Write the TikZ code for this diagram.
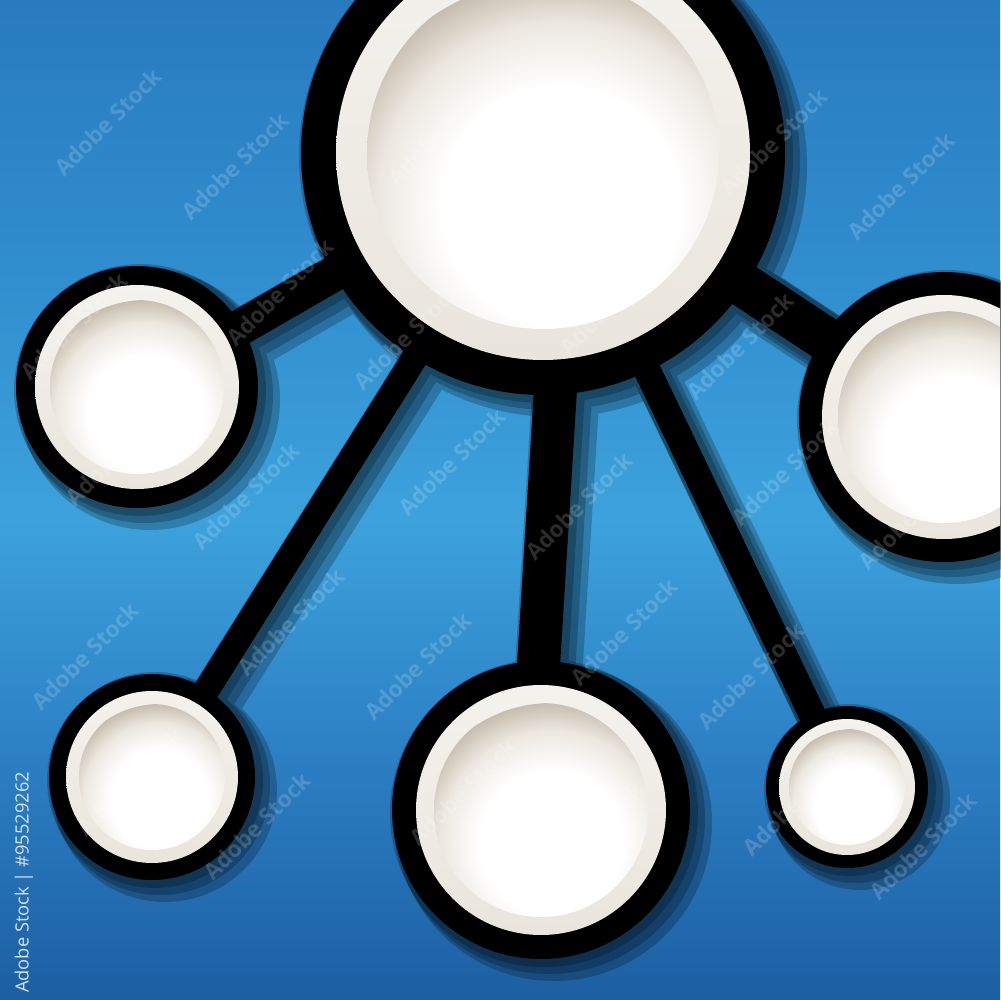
\documentclass[tikz,border=0pt]{standalone}
\usepackage{fontspec}
\newfontfamily\wmfont{Open Sans}
\usetikzlibrary{calc}
\definecolor{navy}{RGB}{12,40,78}
\definecolor{ringtop}{RGB}{244,242,237}
\definecolor{ringbot}{RGB}{233,229,220}
\definecolor{discedge}{RGB}{198,189,174}
\definecolor{discmid}{RGB}{236,232,224}
\definecolor{creditcol}{RGB}{214,226,240}
\definecolor{bgA}{RGB}{28,95,162}
\definecolor{bgB}{RGB}{44,128,196}
\definecolor{bgC}{RGB}{60,162,220}
\definecolor{bgD}{RGB}{48,140,205}
\definecolor{bgE}{RGB}{40,123,191}
\pgfdeclareverticalshading{bgshade}{100bp}{color(0bp)=(bgA); color(25bp)=(bgA); color(37.5bp)=(bgB); color(49bp)=(bgC); color(62.5bp)=(bgD); color(75bp)=(bgE); color(100bp)=(bgE)}
\pgfdeclareradialshading{discshade}{\pgfpoint{0bp}{0bp}}{color(0bp)=(white); color(13bp)=(white); color(20bp)=(discmid); color(25bp)=(discedge); color(50bp)=(discedge)}

% #1 spread, #2 dx, #3 dy
\newcommand\netshapes[3]{%
  \fill ($(c0)+(#2,#3)$) circle ({242+#1});
  \fill ($(lf)+(#2,#3)$) circle ({121+#1});
  \fill ($(rt)+(#2,#3)$) circle ({145+#1});
  \fill ($(bl)+(#2,#3)$) circle ({103+#1});
  \fill ($(bm)+(#2,#3)$) circle ({149+#1});
  \fill ($(br)+(#2,#3)$) circle ({81+#1});
  \draw[line width={(36+2*#1)*0.1mm}] ($(lf)+(#2,#3)$) -- ($(c0)+(#2,#3)$);
  \draw[line width={(44+2*#1)*0.1mm}] ($(rt)+(#2,#3)$) -- ($(c0)+(#2,#3)$);
  \draw[line width={(26+2*#1)*0.1mm}] ($(bl)+(#2,#3)$) -- ($(c0)+(#2,#3)$);
  \draw[line width={(27+2*#1)*0.1mm}] ($(br)+(#2,#3)$) -- ($(c0)+(#2,#3)$);
  \draw[line width={(43+2*#1)*0.1mm}] ($(stembot)+(#2,#3)$) -- ($(stemtop)+(#2,#3)$);
}
% #1 centre, #2 cream ring radius, #3 inner disc radius
\newcommand\whitedisc[3]{%
  \shade[top color=ringtop, bottom color=ringbot] (#1) circle (#2);
  \begin{scope}
    \clip (#1) circle (#3);
    \shade[shading=discshade] ($(#1)+({0.1*#3},{-0.3*#3})$) circle ({1.3*#3});
  \end{scope}
}
\tikzset{
  wm/.style={text=white, text opacity=0.17, rotate=45, inner sep=0pt, font=\wmfont\bfseries},
  credit/.style={text=creditcol, rotate=90, inner sep=0pt, font=\wmfont}
}

\begin{document}
\begin{tikzpicture}[x=0.1mm, y=0.1mm]
\useasboundingbox (0,0) rectangle (1000,1000);
\clip (0,0) rectangle (1000,1000);
\shade[shading=bgshade] (0,0) rectangle (1000,1000);

% named positions, given in pixel coordinates (y downwards)
\begin{scope}[shift={(0,1000)}, yscale=-1]
  \coordinate (c0) at (543,153);
  \coordinate (lf) at (137,387);
  \coordinate (rt) at (944,417);
  \coordinate (bl) at (152,777);
  \coordinate (bm) at (541,810);
  \coordinate (br) at (847,787);
  \coordinate (stemtop) at (570,153);
  \coordinate (stembot) at (529,820);
\end{scope}

% stepped shadows
\begin{scope}[transparency group, opacity=0.22, color=navy]
  \netshapes{9}{13}{-13}
\end{scope}
\begin{scope}[transparency group, opacity=0.22, color=navy]
  \netshapes{7}{8}{-8}
\end{scope}
\begin{scope}[transparency group, opacity=0.22, color=navy]
  \netshapes{5}{3}{-3}
\end{scope}

% black network
\begin{scope}[color=black]
  \netshapes{0}{0}{0}
\end{scope}

% white discs
\whitedisc{c0}{207}{176}
\whitedisc{lf}{102}{87}
\whitedisc{rt}{122}{106}
\whitedisc{bl}{86}{73}
\whitedisc{bm}{125}{107}
\whitedisc{br}{68}{58}

% watermark lattice (only marks lying inside the picture)
\foreach \k in {-1,...,5}{
  \foreach \m in {-3,...,3}{
    \pgfmathsetmacro\wx{108+172*\k+333*\m}
    \pgfmathsetmacro\wy{1000-(122+170*\k+10*\m)}
    \pgfmathtruncatemacro\ina{(\wx>62)&&(\wx<938)&&(\wy>62)&&(\wy<938)}
    \pgfmathtruncatemacro\inb{(\wx+127>62)&&(\wx+127<938)&&(\wy-44>62)&&(\wy-44<938)}
    \ifnum\ina=1
      \node[wm] (wa\k\m) at (\wx,\wy) {\resizebox{14mm}{!}{Adobe Stock}};
    \fi
    \ifnum\inb=1
      \node[wm] (wb\k\m) at (\wx+127,\wy-44) {\resizebox{14mm}{!}{Adobe Stock}};
    \fi
  }
}

\node[credit] (creditline) at (24,117.5) {\resizebox{22.1mm}{!}{Adobe Stock | \#95529262}};
\end{tikzpicture}
\end{document}
